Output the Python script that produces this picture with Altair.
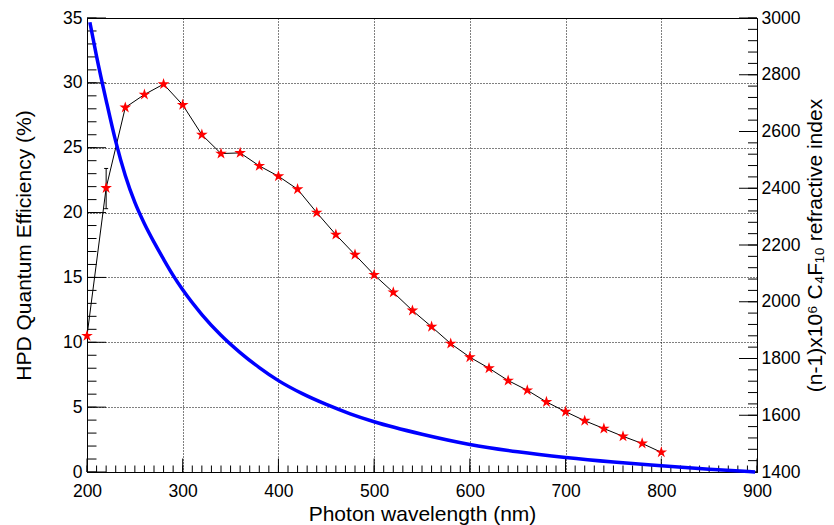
import altair as alt
import pandas as pd

# ---- data ----
wavelength = [200, 220, 240, 260, 280, 300, 320, 340, 360, 380, 400, 420, 440, 460, 480,
              500, 520, 540, 560, 580, 600, 620, 640, 660, 680, 700, 720, 740, 760, 780, 800]
qe = [10.5, 21.9, 28.1, 29.1, 29.9, 28.3, 26.0, 24.55, 24.6, 23.6, 22.8, 21.8, 20.0, 18.3, 16.75,
      15.2, 13.85, 12.45, 11.2, 9.9, 8.85, 8.0, 7.05, 6.3, 5.4, 4.65, 3.95, 3.35, 2.75, 2.2, 1.52]

err_wl = [220]
err_lo = [20.3]
err_hi = [23.4]

ri_wl = [203, 210, 220, 230, 240, 250, 260, 270, 280, 290, 300, 320, 340, 360, 380, 400,
         425, 450, 475, 500, 550, 600, 650, 700, 750, 800, 850, 898]
ri = [2985, 2865, 2710, 2565, 2445, 2350, 2275, 2210, 2150, 2093, 2042, 1955, 1882, 1821, 1768, 1722,
      1676, 1638, 1605, 1577, 1533, 1497, 1471, 1451, 1435, 1422, 1410, 1400]

x_major = [200, 300, 400, 500, 600, 700, 800, 900]
x_minor = list(range(200, 901, 10))
yl_major = [0, 5, 10, 15, 20, 25, 30, 35]
yl_minor = list(range(0, 36, 1))
yr_major = [1400, 1600, 1800, 2000, 2200, 2400, 2600, 2800, 3000]
yr_minor = list(range(1400, 3001, 40))

W, H = 670, 454
FONT = "Liberation Sans"
STAR = ("M0,-1L0.2245,-0.309L0.951,-0.309L0.363,0.118L0.588,0.809L0,0.382"
        "L-0.588,0.809L-0.363,0.118L-0.951,-0.309L-0.2245,-0.309Z")

qe_df = pd.DataFrame({"wl": wavelength, "qe": qe})
err_df = pd.DataFrame({"wl": err_wl, "lo": err_lo, "hi": err_hi})
cap_df = pd.DataFrame({"wl": err_wl + err_wl, "qe": err_lo + err_hi})
ri_df = pd.DataFrame({"wl": ri_wl, "ri": ri})
xmaj_df = pd.DataFrame({"wl": x_major})
xmin_df = pd.DataFrame({"wl": x_minor})
ylmaj_df = pd.DataFrame({"qe": yl_major})
ylmin_df = pd.DataFrame({"qe": yl_minor})
yrmaj_df = pd.DataFrame({"ri": yr_major})
yrmin_df = pd.DataFrame({"ri": yr_minor})

xs = alt.Scale(domain=[200, 900], nice=False, zero=False)
yls = alt.Scale(domain=[0, 35], nice=False, zero=False)
yrs = alt.Scale(domain=[1400, 3000], nice=False, zero=False)

common = dict(ticks=False, tickSize=0, domain=False, labelFlush=False, labelOverlap=False,
              labelFont=FONT, labelFontSize=17.5, labelColor="black", format="d",
              titleFont=FONT, titleFontSize=21, titleFontWeight="normal", titleColor="black")

x_axis = alt.Axis(values=x_major, title="Photon wavelength (nm)", orient="bottom",
                  grid=True, gridDash=[1, 2], gridColor="#000", gridWidth=1, labelPadding=10,
                  titleX=W / 2, titleY=48, titleBaseline="alphabetic", titleAlign="center",
                  **common)
yl_axis = alt.Axis(values=yl_major, title="HPD Quantum Efficiency (%)", orient="left",
                   grid=True, gridDash=[1, 2], gridColor="#000", gridWidth=1, labelPadding=5,
                   titleAngle=270, titleX=-57, titleY=H / 2, titleBaseline="alphabetic",
                   titleAlign="center", **common)
yr_axis = alt.Axis(values=yr_major, title="(n-1)x10⁶ C₄F₁₀ refractive index", orient="right",
                   grid=False, labelPadding=4,
                   titleAngle=270, titleX=64, titleY=H / 2, titleBaseline="alphabetic",
                   titleAlign="center", **common)

X = alt.X("wl:Q", scale=xs, axis=x_axis)
YL = alt.Y("qe:Q", scale=yls, axis=yl_axis)

# left-scale group
xmaj_t = alt.Chart(xmaj_df).mark_rule(color="black", strokeWidth=1).encode(
    x=X, y=alt.value(H), y2=alt.value(H - 13.5))
xmin_t = alt.Chart(xmin_df).mark_rule(color="black", strokeWidth=1).encode(
    x=X, y=alt.value(H), y2=alt.value(H - 6.5))
ylmaj_t = alt.Chart(ylmaj_df).mark_rule(color="black", strokeWidth=1).encode(
    y=YL, x=alt.value(0), x2=alt.value(19))
ylmin_t = alt.Chart(ylmin_df).mark_rule(color="black", strokeWidth=1).encode(
    y=YL, x=alt.value(0), x2=alt.value(9.5))
qe_line = alt.Chart(qe_df).mark_line(color="black", strokeWidth=1).encode(x=X, y=YL)
err_rule = alt.Chart(err_df).mark_rule(color="black", strokeWidth=1).encode(
    x=X, y=alt.Y("lo:Q", scale=yls, axis=yl_axis), y2="hi:Q")
caps = alt.Chart(cap_df).mark_point(shape="M-1,0L1,0", size=16, filled=False,
                                    color="black", strokeWidth=1, opacity=1).encode(x=X, y=YL)
stars = alt.Chart(qe_df).mark_point(shape=STAR, size=150, filled=True, fill="#ff0000",
                                    strokeWidth=0, opacity=1).encode(x=X, y=YL)

left = alt.layer(xmaj_t, xmin_t, ylmaj_t, ylmin_t, qe_line, err_rule, caps, stars)

# right-scale group
YR = alt.Y("ri:Q", scale=yrs, axis=yr_axis)
yrmaj_t = alt.Chart(yrmaj_df).mark_rule(color="black", strokeWidth=1).encode(
    y=YR, x=alt.value(W), x2=alt.value(W - 18))
yrmin_t = alt.Chart(yrmin_df).mark_rule(color="black", strokeWidth=1).encode(
    y=YR, x=alt.value(W), x2=alt.value(W - 9))
ri_line = alt.Chart(ri_df).mark_line(color="#0000ff", strokeWidth=3.5,
                                     interpolate="monotone").encode(x=X, y=YR)
right = alt.layer(yrmaj_t, yrmin_t, ri_line)

chart = (
    alt.layer(left, right)
    .resolve_scale(y="independent")
    .properties(width=W, height=H, autosize=alt.AutoSizeParams(type="none"),
                padding={"left": 79, "top": 10, "right": 69, "bottom": 53},
                background="white")
    .configure_view(stroke="black", strokeWidth=1)
)

chart.save("out.html", embed_options={"renderer": "svg", "actions": False})
